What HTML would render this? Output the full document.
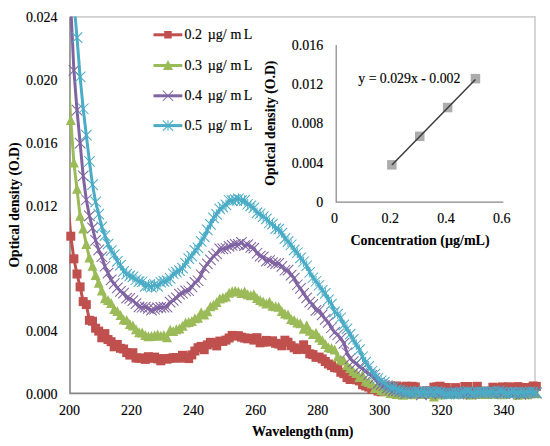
<!DOCTYPE html><html><head><meta charset="utf-8"><style>html,body{margin:0;padding:0;background:#fff;width:550px;height:446px;overflow:hidden}svg{display:block}text{font-family:"Liberation Serif",serif;stroke:#000;stroke-width:0.15px}text[font-weight=bold]{stroke-width:0.1px}</style></head><body>
<svg width="550" height="446" viewBox="0 0 550 446">
<defs><clipPath id="pc"><rect x="70" y="16.6" width="490" height="430"/></clipPath></defs>
<path d="M70,16.8 H535.0 V393.5" fill="none" stroke="#d0d0d0" stroke-width="1.7"/>
<path d="M70,16.8 V393.4 H535.0" fill="none" stroke="#868686" stroke-width="1.6"/>
<text x="57.5" y="399.1" font-size="14" text-anchor="end" fill="#000">0.000</text>
<text x="57.5" y="336.3" font-size="14" text-anchor="end" fill="#000">0.004</text>
<text x="57.5" y="273.5" font-size="14" text-anchor="end" fill="#000">0.008</text>
<text x="57.5" y="210.7" font-size="14" text-anchor="end" fill="#000">0.012</text>
<text x="57.5" y="147.8" font-size="14" text-anchor="end" fill="#000">0.016</text>
<text x="57.5" y="85.0" font-size="14" text-anchor="end" fill="#000">0.020</text>
<text x="57.5" y="22.2" font-size="14" text-anchor="end" fill="#000">0.024</text>
<text x="69.5" y="414.5" font-size="14" text-anchor="middle" fill="#000">200</text>
<text x="131.6" y="414.5" font-size="14" text-anchor="middle" fill="#000">220</text>
<text x="193.6" y="414.5" font-size="14" text-anchor="middle" fill="#000">240</text>
<text x="255.7" y="414.5" font-size="14" text-anchor="middle" fill="#000">260</text>
<text x="317.8" y="414.5" font-size="14" text-anchor="middle" fill="#000">280</text>
<text x="379.8" y="414.5" font-size="14" text-anchor="middle" fill="#000">300</text>
<text x="441.9" y="414.5" font-size="14" text-anchor="middle" fill="#000">320</text>
<text x="504.0" y="414.5" font-size="14" text-anchor="middle" fill="#000">340</text>
<text x="252" y="435.5" font-size="14" font-weight="bold" word-spacing="-1.6">Wavelength (nm)</text>
<text transform="translate(18.9,205) rotate(-90)" font-size="13.7" font-weight="bold" text-anchor="middle">Optical density (O.D)</text>
<path clip-path="url(#pc)" d="M67.7,200.0 L70.8,236.2 L73.9,258.8 L77.0,274.0 L80.1,286.9 L83.2,301.6 L86.3,304.6 L89.4,320.3 L92.5,321.2 L95.6,328.2 L98.7,331.1 L101.8,337.8 L104.9,333.6 L108.0,339.5 L111.1,341.7 L114.2,346.8 L117.3,344.4 L120.5,348.3 L123.6,349.0 L126.7,352.6 L129.8,355.1 L132.9,352.7 L136.0,358.0 L139.1,358.2 L142.2,358.0 L145.3,359.4 L148.4,356.7 L151.5,358.3 L154.6,357.1 L157.7,358.9 L160.8,360.8 L163.9,358.6 L167.0,359.2 L170.1,358.4 L173.2,357.7 L176.3,357.6 L179.4,358.2 L182.5,355.3 L185.6,357.1 L188.7,358.6 L191.8,354.9 L194.9,351.0 L198.0,347.7 L201.1,346.4 L204.2,349.7 L207.3,344.9 L210.5,342.3 L213.6,342.9 L216.7,345.9 L219.8,341.1 L222.9,341.4 L226.0,340.1 L229.1,338.0 L232.2,335.4 L235.3,336.0 L238.4,335.7 L241.5,337.2 L244.6,338.1 L247.7,338.8 L250.8,338.2 L253.9,340.1 L257.0,337.7 L260.1,342.8 L263.2,342.0 L266.3,340.4 L269.4,342.0 L272.5,340.8 L275.6,343.3 L278.7,344.0 L281.8,345.8 L284.9,340.2 L288.0,342.2 L291.1,345.7 L294.2,347.8 L297.3,349.6 L300.4,348.9 L303.6,344.8 L306.7,349.5 L309.8,353.8 L312.9,354.6 L316.0,357.3 L319.1,357.1 L322.2,358.9 L325.3,361.5 L328.4,364.0 L331.5,365.6 L334.6,367.6 L337.7,368.1 L340.8,372.3 L343.9,373.7 L347.0,377.6 L350.1,379.5 L353.2,379.2 L356.3,379.8 L359.4,380.9 L362.5,384.7 L365.6,385.9 L368.7,387.1 L371.8,389.4 L374.9,388.5 L378.0,391.1 L381.1,391.8 L384.2,386.8 L387.3,391.3 L390.4,386.0 L393.5,391.7 L396.7,386.0 L399.8,387.5 L402.9,387.5 L406.0,386.2 L409.1,391.5 L412.2,386.3 L415.3,386.9 L418.4,391.4 L421.5,392.2 L424.6,391.1 L427.7,391.0 L430.8,391.1 L433.9,387.2 L437.0,386.8 L440.1,386.2 L443.2,392.7 L446.3,387.5 L449.4,391.2 L452.5,391.3 L455.6,387.6 L458.7,391.9 L461.8,391.7 L464.9,386.5 L468.0,386.5 L471.1,391.2 L474.2,391.1 L477.3,386.3 L480.4,392.9 L483.5,391.0 L486.6,391.6 L489.8,392.0 L492.9,387.2 L496.0,391.5 L499.1,388.0 L502.2,386.9 L505.3,387.7 L508.4,386.8 L511.5,387.6 L514.6,391.9 L517.7,386.6 L520.8,387.4 L523.9,388.0 L527.0,387.5 L530.1,391.1 L533.2,386.0 L536.3,386.4" fill="none" stroke="#C0504D" stroke-width="3" stroke-linejoin="round"/>
<rect x="66.3" y="231.7" width="9" height="9" fill="#C0504D"/><rect x="69.4" y="254.3" width="9" height="9" fill="#C0504D"/><rect x="72.5" y="269.5" width="9" height="9" fill="#C0504D"/><rect x="75.6" y="282.4" width="9" height="9" fill="#C0504D"/><rect x="78.7" y="297.1" width="9" height="9" fill="#C0504D"/><rect x="81.8" y="300.1" width="9" height="9" fill="#C0504D"/><rect x="84.9" y="315.8" width="9" height="9" fill="#C0504D"/><rect x="88.0" y="316.7" width="9" height="9" fill="#C0504D"/><rect x="91.1" y="323.7" width="9" height="9" fill="#C0504D"/><rect x="94.2" y="326.6" width="9" height="9" fill="#C0504D"/><rect x="97.3" y="333.3" width="9" height="9" fill="#C0504D"/><rect x="100.4" y="329.1" width="9" height="9" fill="#C0504D"/><rect x="103.5" y="335.0" width="9" height="9" fill="#C0504D"/><rect x="106.6" y="337.2" width="9" height="9" fill="#C0504D"/><rect x="109.7" y="342.3" width="9" height="9" fill="#C0504D"/><rect x="112.8" y="339.9" width="9" height="9" fill="#C0504D"/><rect x="116.0" y="343.8" width="9" height="9" fill="#C0504D"/><rect x="119.1" y="344.5" width="9" height="9" fill="#C0504D"/><rect x="122.2" y="348.1" width="9" height="9" fill="#C0504D"/><rect x="125.3" y="350.6" width="9" height="9" fill="#C0504D"/><rect x="128.4" y="348.2" width="9" height="9" fill="#C0504D"/><rect x="131.5" y="353.5" width="9" height="9" fill="#C0504D"/><rect x="134.6" y="353.7" width="9" height="9" fill="#C0504D"/><rect x="137.7" y="353.5" width="9" height="9" fill="#C0504D"/><rect x="140.8" y="354.9" width="9" height="9" fill="#C0504D"/><rect x="143.9" y="352.2" width="9" height="9" fill="#C0504D"/><rect x="147.0" y="353.8" width="9" height="9" fill="#C0504D"/><rect x="150.1" y="352.6" width="9" height="9" fill="#C0504D"/><rect x="153.2" y="354.4" width="9" height="9" fill="#C0504D"/><rect x="156.3" y="356.3" width="9" height="9" fill="#C0504D"/><rect x="159.4" y="354.1" width="9" height="9" fill="#C0504D"/><rect x="162.5" y="354.7" width="9" height="9" fill="#C0504D"/><rect x="165.6" y="353.9" width="9" height="9" fill="#C0504D"/><rect x="168.7" y="353.2" width="9" height="9" fill="#C0504D"/><rect x="171.8" y="353.1" width="9" height="9" fill="#C0504D"/><rect x="174.9" y="353.7" width="9" height="9" fill="#C0504D"/><rect x="178.0" y="350.8" width="9" height="9" fill="#C0504D"/><rect x="181.1" y="352.6" width="9" height="9" fill="#C0504D"/><rect x="184.2" y="354.1" width="9" height="9" fill="#C0504D"/><rect x="187.3" y="350.4" width="9" height="9" fill="#C0504D"/><rect x="190.4" y="346.5" width="9" height="9" fill="#C0504D"/><rect x="193.5" y="343.2" width="9" height="9" fill="#C0504D"/><rect x="196.6" y="341.9" width="9" height="9" fill="#C0504D"/><rect x="199.7" y="345.2" width="9" height="9" fill="#C0504D"/><rect x="202.8" y="340.4" width="9" height="9" fill="#C0504D"/><rect x="206.0" y="337.8" width="9" height="9" fill="#C0504D"/><rect x="209.1" y="338.4" width="9" height="9" fill="#C0504D"/><rect x="212.2" y="341.4" width="9" height="9" fill="#C0504D"/><rect x="215.3" y="336.6" width="9" height="9" fill="#C0504D"/><rect x="218.4" y="336.9" width="9" height="9" fill="#C0504D"/><rect x="221.5" y="335.6" width="9" height="9" fill="#C0504D"/><rect x="224.6" y="333.5" width="9" height="9" fill="#C0504D"/><rect x="227.7" y="330.9" width="9" height="9" fill="#C0504D"/><rect x="230.8" y="331.5" width="9" height="9" fill="#C0504D"/><rect x="233.9" y="331.2" width="9" height="9" fill="#C0504D"/><rect x="237.0" y="332.7" width="9" height="9" fill="#C0504D"/><rect x="240.1" y="333.6" width="9" height="9" fill="#C0504D"/><rect x="243.2" y="334.3" width="9" height="9" fill="#C0504D"/><rect x="246.3" y="333.7" width="9" height="9" fill="#C0504D"/><rect x="249.4" y="335.6" width="9" height="9" fill="#C0504D"/><rect x="252.5" y="333.2" width="9" height="9" fill="#C0504D"/><rect x="255.6" y="338.3" width="9" height="9" fill="#C0504D"/><rect x="258.7" y="337.5" width="9" height="9" fill="#C0504D"/><rect x="261.8" y="335.9" width="9" height="9" fill="#C0504D"/><rect x="264.9" y="337.5" width="9" height="9" fill="#C0504D"/><rect x="268.0" y="336.3" width="9" height="9" fill="#C0504D"/><rect x="271.1" y="338.8" width="9" height="9" fill="#C0504D"/><rect x="274.2" y="339.5" width="9" height="9" fill="#C0504D"/><rect x="277.3" y="341.3" width="9" height="9" fill="#C0504D"/><rect x="280.4" y="335.7" width="9" height="9" fill="#C0504D"/><rect x="283.5" y="337.7" width="9" height="9" fill="#C0504D"/><rect x="286.6" y="341.2" width="9" height="9" fill="#C0504D"/><rect x="289.7" y="343.3" width="9" height="9" fill="#C0504D"/><rect x="292.8" y="345.1" width="9" height="9" fill="#C0504D"/><rect x="295.9" y="344.4" width="9" height="9" fill="#C0504D"/><rect x="299.1" y="340.3" width="9" height="9" fill="#C0504D"/><rect x="302.2" y="345.0" width="9" height="9" fill="#C0504D"/><rect x="305.3" y="349.3" width="9" height="9" fill="#C0504D"/><rect x="308.4" y="350.1" width="9" height="9" fill="#C0504D"/><rect x="311.5" y="352.8" width="9" height="9" fill="#C0504D"/><rect x="314.6" y="352.6" width="9" height="9" fill="#C0504D"/><rect x="317.7" y="354.4" width="9" height="9" fill="#C0504D"/><rect x="320.8" y="357.0" width="9" height="9" fill="#C0504D"/><rect x="323.9" y="359.5" width="9" height="9" fill="#C0504D"/><rect x="327.0" y="361.1" width="9" height="9" fill="#C0504D"/><rect x="330.1" y="363.1" width="9" height="9" fill="#C0504D"/><rect x="333.2" y="363.6" width="9" height="9" fill="#C0504D"/><rect x="336.3" y="367.8" width="9" height="9" fill="#C0504D"/><rect x="339.4" y="369.2" width="9" height="9" fill="#C0504D"/><rect x="342.5" y="373.1" width="9" height="9" fill="#C0504D"/><rect x="345.6" y="375.0" width="9" height="9" fill="#C0504D"/><rect x="348.7" y="374.7" width="9" height="9" fill="#C0504D"/><rect x="351.8" y="375.3" width="9" height="9" fill="#C0504D"/><rect x="354.9" y="376.4" width="9" height="9" fill="#C0504D"/><rect x="358.0" y="380.2" width="9" height="9" fill="#C0504D"/><rect x="361.1" y="381.4" width="9" height="9" fill="#C0504D"/><rect x="364.2" y="382.6" width="9" height="9" fill="#C0504D"/><rect x="367.3" y="384.9" width="9" height="9" fill="#C0504D"/><rect x="370.4" y="384.0" width="9" height="9" fill="#C0504D"/><rect x="373.5" y="386.6" width="9" height="9" fill="#C0504D"/><rect x="376.6" y="387.3" width="9" height="9" fill="#C0504D"/><rect x="379.7" y="382.3" width="9" height="9" fill="#C0504D"/><rect x="382.8" y="386.8" width="9" height="9" fill="#C0504D"/><rect x="385.9" y="381.5" width="9" height="9" fill="#C0504D"/><rect x="389.0" y="387.2" width="9" height="9" fill="#C0504D"/><rect x="392.2" y="381.5" width="9" height="9" fill="#C0504D"/><rect x="395.3" y="383.0" width="9" height="9" fill="#C0504D"/><rect x="398.4" y="383.0" width="9" height="9" fill="#C0504D"/><rect x="401.5" y="381.7" width="9" height="9" fill="#C0504D"/><rect x="404.6" y="387.0" width="9" height="9" fill="#C0504D"/><rect x="407.7" y="381.8" width="9" height="9" fill="#C0504D"/><rect x="410.8" y="382.4" width="9" height="9" fill="#C0504D"/><rect x="413.9" y="386.9" width="9" height="9" fill="#C0504D"/><rect x="417.0" y="387.7" width="9" height="9" fill="#C0504D"/><rect x="420.1" y="386.6" width="9" height="9" fill="#C0504D"/><rect x="423.2" y="386.5" width="9" height="9" fill="#C0504D"/><rect x="426.3" y="386.6" width="9" height="9" fill="#C0504D"/><rect x="429.4" y="382.7" width="9" height="9" fill="#C0504D"/><rect x="432.5" y="382.3" width="9" height="9" fill="#C0504D"/><rect x="435.6" y="381.7" width="9" height="9" fill="#C0504D"/><rect x="438.7" y="388.2" width="9" height="9" fill="#C0504D"/><rect x="441.8" y="383.0" width="9" height="9" fill="#C0504D"/><rect x="444.9" y="386.7" width="9" height="9" fill="#C0504D"/><rect x="448.0" y="386.8" width="9" height="9" fill="#C0504D"/><rect x="451.1" y="383.1" width="9" height="9" fill="#C0504D"/><rect x="454.2" y="387.4" width="9" height="9" fill="#C0504D"/><rect x="457.3" y="387.2" width="9" height="9" fill="#C0504D"/><rect x="460.4" y="382.0" width="9" height="9" fill="#C0504D"/><rect x="463.5" y="382.0" width="9" height="9" fill="#C0504D"/><rect x="466.6" y="386.7" width="9" height="9" fill="#C0504D"/><rect x="469.7" y="386.6" width="9" height="9" fill="#C0504D"/><rect x="472.8" y="381.8" width="9" height="9" fill="#C0504D"/><rect x="475.9" y="388.4" width="9" height="9" fill="#C0504D"/><rect x="479.0" y="386.5" width="9" height="9" fill="#C0504D"/><rect x="482.1" y="387.1" width="9" height="9" fill="#C0504D"/><rect x="485.2" y="387.5" width="9" height="9" fill="#C0504D"/><rect x="488.4" y="382.7" width="9" height="9" fill="#C0504D"/><rect x="491.5" y="387.0" width="9" height="9" fill="#C0504D"/><rect x="494.6" y="383.5" width="9" height="9" fill="#C0504D"/><rect x="497.7" y="382.4" width="9" height="9" fill="#C0504D"/><rect x="500.8" y="383.2" width="9" height="9" fill="#C0504D"/><rect x="503.9" y="382.3" width="9" height="9" fill="#C0504D"/><rect x="507.0" y="383.1" width="9" height="9" fill="#C0504D"/><rect x="510.1" y="387.4" width="9" height="9" fill="#C0504D"/><rect x="513.2" y="382.1" width="9" height="9" fill="#C0504D"/><rect x="516.3" y="382.9" width="9" height="9" fill="#C0504D"/><rect x="519.4" y="383.5" width="9" height="9" fill="#C0504D"/><rect x="522.5" y="383.0" width="9" height="9" fill="#C0504D"/><rect x="525.6" y="386.6" width="9" height="9" fill="#C0504D"/><rect x="528.7" y="381.5" width="9" height="9" fill="#C0504D"/><rect x="531.8" y="381.9" width="9" height="9" fill="#C0504D"/>
<path clip-path="url(#pc)" d="M67.7,70.0 L70.8,120.5 L73.9,163.0 L77.0,189.3 L80.1,216.2 L83.2,229.0 L86.3,244.6 L89.4,258.0 L92.5,266.2 L95.6,275.5 L98.7,283.2 L101.8,291.1 L104.9,298.8 L108.0,300.6 L111.1,303.5 L114.2,309.5 L117.3,311.6 L120.5,315.5 L123.6,320.0 L126.7,320.5 L129.8,324.4 L132.9,326.1 L136.0,329.8 L139.1,332.7 L142.2,333.1 L145.3,335.6 L148.4,336.7 L151.5,336.6 L154.6,335.7 L157.7,335.1 L160.8,336.2 L163.9,335.4 L167.0,337.8 L170.1,330.2 L173.2,331.6 L176.3,329.8 L179.4,329.1 L182.5,326.3 L185.6,322.9 L188.7,322.4 L191.8,321.5 L194.9,318.7 L198.0,318.3 L201.1,312.8 L204.2,314.9 L207.3,311.8 L210.5,306.7 L213.6,305.3 L216.7,302.4 L219.8,299.0 L222.9,297.9 L226.0,296.9 L229.1,293.2 L232.2,291.8 L235.3,291.3 L238.4,291.9 L241.5,293.5 L244.6,292.0 L247.7,294.7 L250.8,295.8 L253.9,294.8 L257.0,298.4 L260.1,300.4 L263.2,302.1 L266.3,303.9 L269.4,302.2 L272.5,306.2 L275.6,306.7 L278.7,307.3 L281.8,311.6 L284.9,314.1 L288.0,314.9 L291.1,319.6 L294.2,320.4 L297.3,323.1 L300.4,323.7 L303.6,329.2 L306.7,325.8 L309.8,331.2 L312.9,334.5 L316.0,333.2 L319.1,338.0 L322.2,340.6 L325.3,344.4 L328.4,347.7 L331.5,348.4 L334.6,350.1 L337.7,356.9 L340.8,359.9 L343.9,361.1 L347.0,365.5 L350.1,368.6 L353.2,371.5 L356.3,373.5 L359.4,377.4 L362.5,375.6 L365.6,381.3 L368.7,382.6 L371.8,384.1 L374.9,388.4 L378.0,386.0 L381.1,390.4 L384.2,391.2 L387.3,390.7 L390.4,393.4 L393.5,393.8 L396.7,394.6 L399.8,393.8 L402.9,395.2 L406.0,393.7 L409.1,393.1 L412.2,394.7 L415.3,393.7 L418.4,393.1 L421.5,394.1 L424.6,394.5 L427.7,394.2 L430.8,394.3 L433.9,396.9 L437.0,394.6 L440.1,395.1 L443.2,392.6 L446.3,394.3 L449.4,394.5 L452.5,393.7 L455.6,393.4 L458.7,394.3 L461.8,393.8 L464.9,393.6 L468.0,394.8 L471.1,394.9 L474.2,394.2 L477.3,393.7 L480.4,394.4 L483.5,394.6 L486.6,394.4 L489.8,393.0 L492.9,393.8 L496.0,394.3 L499.1,394.4 L502.2,394.7 L505.3,394.5 L508.4,393.2 L511.5,393.5 L514.6,393.1 L517.7,395.3 L520.8,394.1 L523.9,394.4 L527.0,394.7 L530.1,393.8 L533.2,393.2 L536.3,393.7" fill="none" stroke="#9BBB59" stroke-width="3" stroke-linejoin="round"/>
<path d="M70.8,115.0 L75.8,125.0 L65.8,125.0Z" fill="#9BBB59"/><path d="M73.9,157.5 L78.9,167.5 L68.9,167.5Z" fill="#9BBB59"/><path d="M77.0,183.8 L82.0,193.8 L72.0,193.8Z" fill="#9BBB59"/><path d="M80.1,210.7 L85.1,220.7 L75.1,220.7Z" fill="#9BBB59"/><path d="M83.2,223.5 L88.2,233.5 L78.2,233.5Z" fill="#9BBB59"/><path d="M86.3,239.1 L91.3,249.1 L81.3,249.1Z" fill="#9BBB59"/><path d="M89.4,252.5 L94.4,262.5 L84.4,262.5Z" fill="#9BBB59"/><path d="M92.5,260.7 L97.5,270.7 L87.5,270.7Z" fill="#9BBB59"/><path d="M95.6,270.0 L100.6,280.0 L90.6,280.0Z" fill="#9BBB59"/><path d="M98.7,277.7 L103.7,287.7 L93.7,287.7Z" fill="#9BBB59"/><path d="M101.8,285.6 L106.8,295.6 L96.8,295.6Z" fill="#9BBB59"/><path d="M104.9,293.3 L109.9,303.3 L99.9,303.3Z" fill="#9BBB59"/><path d="M108.0,295.1 L113.0,305.1 L103.0,305.1Z" fill="#9BBB59"/><path d="M111.1,298.0 L116.1,308.0 L106.1,308.0Z" fill="#9BBB59"/><path d="M114.2,304.0 L119.2,314.0 L109.2,314.0Z" fill="#9BBB59"/><path d="M117.3,306.1 L122.3,316.1 L112.3,316.1Z" fill="#9BBB59"/><path d="M120.5,310.0 L125.5,320.0 L115.5,320.0Z" fill="#9BBB59"/><path d="M123.6,314.5 L128.6,324.5 L118.6,324.5Z" fill="#9BBB59"/><path d="M126.7,315.0 L131.7,325.0 L121.7,325.0Z" fill="#9BBB59"/><path d="M129.8,318.9 L134.8,328.9 L124.8,328.9Z" fill="#9BBB59"/><path d="M132.9,320.6 L137.9,330.6 L127.9,330.6Z" fill="#9BBB59"/><path d="M136.0,324.3 L141.0,334.3 L131.0,334.3Z" fill="#9BBB59"/><path d="M139.1,327.2 L144.1,337.2 L134.1,337.2Z" fill="#9BBB59"/><path d="M142.2,327.6 L147.2,337.6 L137.2,337.6Z" fill="#9BBB59"/><path d="M145.3,330.1 L150.3,340.1 L140.3,340.1Z" fill="#9BBB59"/><path d="M148.4,331.2 L153.4,341.2 L143.4,341.2Z" fill="#9BBB59"/><path d="M151.5,331.1 L156.5,341.1 L146.5,341.1Z" fill="#9BBB59"/><path d="M154.6,330.2 L159.6,340.2 L149.6,340.2Z" fill="#9BBB59"/><path d="M157.7,329.6 L162.7,339.6 L152.7,339.6Z" fill="#9BBB59"/><path d="M160.8,330.7 L165.8,340.7 L155.8,340.7Z" fill="#9BBB59"/><path d="M163.9,329.9 L168.9,339.9 L158.9,339.9Z" fill="#9BBB59"/><path d="M167.0,332.3 L172.0,342.3 L162.0,342.3Z" fill="#9BBB59"/><path d="M170.1,324.7 L175.1,334.7 L165.1,334.7Z" fill="#9BBB59"/><path d="M173.2,326.1 L178.2,336.1 L168.2,336.1Z" fill="#9BBB59"/><path d="M176.3,324.3 L181.3,334.3 L171.3,334.3Z" fill="#9BBB59"/><path d="M179.4,323.6 L184.4,333.6 L174.4,333.6Z" fill="#9BBB59"/><path d="M182.5,320.8 L187.5,330.8 L177.5,330.8Z" fill="#9BBB59"/><path d="M185.6,317.4 L190.6,327.4 L180.6,327.4Z" fill="#9BBB59"/><path d="M188.7,316.9 L193.7,326.9 L183.7,326.9Z" fill="#9BBB59"/><path d="M191.8,316.0 L196.8,326.0 L186.8,326.0Z" fill="#9BBB59"/><path d="M194.9,313.2 L199.9,323.2 L189.9,323.2Z" fill="#9BBB59"/><path d="M198.0,312.8 L203.0,322.8 L193.0,322.8Z" fill="#9BBB59"/><path d="M201.1,307.3 L206.1,317.3 L196.1,317.3Z" fill="#9BBB59"/><path d="M204.2,309.4 L209.2,319.4 L199.2,319.4Z" fill="#9BBB59"/><path d="M207.3,306.3 L212.3,316.3 L202.3,316.3Z" fill="#9BBB59"/><path d="M210.5,301.2 L215.5,311.2 L205.5,311.2Z" fill="#9BBB59"/><path d="M213.6,299.8 L218.6,309.8 L208.6,309.8Z" fill="#9BBB59"/><path d="M216.7,296.9 L221.7,306.9 L211.7,306.9Z" fill="#9BBB59"/><path d="M219.8,293.5 L224.8,303.5 L214.8,303.5Z" fill="#9BBB59"/><path d="M222.9,292.4 L227.9,302.4 L217.9,302.4Z" fill="#9BBB59"/><path d="M226.0,291.4 L231.0,301.4 L221.0,301.4Z" fill="#9BBB59"/><path d="M229.1,287.7 L234.1,297.7 L224.1,297.7Z" fill="#9BBB59"/><path d="M232.2,286.3 L237.2,296.3 L227.2,296.3Z" fill="#9BBB59"/><path d="M235.3,285.8 L240.3,295.8 L230.3,295.8Z" fill="#9BBB59"/><path d="M238.4,286.4 L243.4,296.4 L233.4,296.4Z" fill="#9BBB59"/><path d="M241.5,288.0 L246.5,298.0 L236.5,298.0Z" fill="#9BBB59"/><path d="M244.6,286.5 L249.6,296.5 L239.6,296.5Z" fill="#9BBB59"/><path d="M247.7,289.2 L252.7,299.2 L242.7,299.2Z" fill="#9BBB59"/><path d="M250.8,290.3 L255.8,300.3 L245.8,300.3Z" fill="#9BBB59"/><path d="M253.9,289.3 L258.9,299.3 L248.9,299.3Z" fill="#9BBB59"/><path d="M257.0,292.9 L262.0,302.9 L252.0,302.9Z" fill="#9BBB59"/><path d="M260.1,294.9 L265.1,304.9 L255.1,304.9Z" fill="#9BBB59"/><path d="M263.2,296.6 L268.2,306.6 L258.2,306.6Z" fill="#9BBB59"/><path d="M266.3,298.4 L271.3,308.4 L261.3,308.4Z" fill="#9BBB59"/><path d="M269.4,296.7 L274.4,306.7 L264.4,306.7Z" fill="#9BBB59"/><path d="M272.5,300.7 L277.5,310.7 L267.5,310.7Z" fill="#9BBB59"/><path d="M275.6,301.2 L280.6,311.2 L270.6,311.2Z" fill="#9BBB59"/><path d="M278.7,301.8 L283.7,311.8 L273.7,311.8Z" fill="#9BBB59"/><path d="M281.8,306.1 L286.8,316.1 L276.8,316.1Z" fill="#9BBB59"/><path d="M284.9,308.6 L289.9,318.6 L279.9,318.6Z" fill="#9BBB59"/><path d="M288.0,309.4 L293.0,319.4 L283.0,319.4Z" fill="#9BBB59"/><path d="M291.1,314.1 L296.1,324.1 L286.1,324.1Z" fill="#9BBB59"/><path d="M294.2,314.9 L299.2,324.9 L289.2,324.9Z" fill="#9BBB59"/><path d="M297.3,317.6 L302.3,327.6 L292.3,327.6Z" fill="#9BBB59"/><path d="M300.4,318.2 L305.4,328.2 L295.4,328.2Z" fill="#9BBB59"/><path d="M303.6,323.7 L308.6,333.7 L298.6,333.7Z" fill="#9BBB59"/><path d="M306.7,320.3 L311.7,330.3 L301.7,330.3Z" fill="#9BBB59"/><path d="M309.8,325.7 L314.8,335.7 L304.8,335.7Z" fill="#9BBB59"/><path d="M312.9,329.0 L317.9,339.0 L307.9,339.0Z" fill="#9BBB59"/><path d="M316.0,327.7 L321.0,337.7 L311.0,337.7Z" fill="#9BBB59"/><path d="M319.1,332.5 L324.1,342.5 L314.1,342.5Z" fill="#9BBB59"/><path d="M322.2,335.1 L327.2,345.1 L317.2,345.1Z" fill="#9BBB59"/><path d="M325.3,338.9 L330.3,348.9 L320.3,348.9Z" fill="#9BBB59"/><path d="M328.4,342.2 L333.4,352.2 L323.4,352.2Z" fill="#9BBB59"/><path d="M331.5,342.9 L336.5,352.9 L326.5,352.9Z" fill="#9BBB59"/><path d="M334.6,344.6 L339.6,354.6 L329.6,354.6Z" fill="#9BBB59"/><path d="M337.7,351.4 L342.7,361.4 L332.7,361.4Z" fill="#9BBB59"/><path d="M340.8,354.4 L345.8,364.4 L335.8,364.4Z" fill="#9BBB59"/><path d="M343.9,355.6 L348.9,365.6 L338.9,365.6Z" fill="#9BBB59"/><path d="M347.0,360.0 L352.0,370.0 L342.0,370.0Z" fill="#9BBB59"/><path d="M350.1,363.1 L355.1,373.1 L345.1,373.1Z" fill="#9BBB59"/><path d="M353.2,366.0 L358.2,376.0 L348.2,376.0Z" fill="#9BBB59"/><path d="M356.3,368.0 L361.3,378.0 L351.3,378.0Z" fill="#9BBB59"/><path d="M359.4,371.9 L364.4,381.9 L354.4,381.9Z" fill="#9BBB59"/><path d="M362.5,370.1 L367.5,380.1 L357.5,380.1Z" fill="#9BBB59"/><path d="M365.6,375.8 L370.6,385.8 L360.6,385.8Z" fill="#9BBB59"/><path d="M368.7,377.1 L373.7,387.1 L363.7,387.1Z" fill="#9BBB59"/><path d="M371.8,378.6 L376.8,388.6 L366.8,388.6Z" fill="#9BBB59"/><path d="M374.9,382.9 L379.9,392.9 L369.9,392.9Z" fill="#9BBB59"/><path d="M378.0,380.5 L383.0,390.5 L373.0,390.5Z" fill="#9BBB59"/><path d="M381.1,384.9 L386.1,394.9 L376.1,394.9Z" fill="#9BBB59"/><path d="M384.2,385.7 L389.2,395.7 L379.2,395.7Z" fill="#9BBB59"/><path d="M387.3,385.2 L392.3,395.2 L382.3,395.2Z" fill="#9BBB59"/><path d="M390.4,387.9 L395.4,397.9 L385.4,397.9Z" fill="#9BBB59"/><path d="M393.5,388.3 L398.5,398.3 L388.5,398.3Z" fill="#9BBB59"/><path d="M396.7,389.1 L401.7,399.1 L391.7,399.1Z" fill="#9BBB59"/><path d="M399.8,388.3 L404.8,398.3 L394.8,398.3Z" fill="#9BBB59"/><path d="M402.9,389.7 L407.9,399.7 L397.9,399.7Z" fill="#9BBB59"/><path d="M406.0,388.2 L411.0,398.2 L401.0,398.2Z" fill="#9BBB59"/><path d="M409.1,387.6 L414.1,397.6 L404.1,397.6Z" fill="#9BBB59"/><path d="M412.2,389.2 L417.2,399.2 L407.2,399.2Z" fill="#9BBB59"/><path d="M415.3,388.2 L420.3,398.2 L410.3,398.2Z" fill="#9BBB59"/><path d="M418.4,387.6 L423.4,397.6 L413.4,397.6Z" fill="#9BBB59"/><path d="M421.5,388.6 L426.5,398.6 L416.5,398.6Z" fill="#9BBB59"/><path d="M424.6,389.0 L429.6,399.0 L419.6,399.0Z" fill="#9BBB59"/><path d="M427.7,388.7 L432.7,398.7 L422.7,398.7Z" fill="#9BBB59"/><path d="M430.8,388.8 L435.8,398.8 L425.8,398.8Z" fill="#9BBB59"/><path d="M433.9,391.4 L438.9,401.4 L428.9,401.4Z" fill="#9BBB59"/><path d="M437.0,389.1 L442.0,399.1 L432.0,399.1Z" fill="#9BBB59"/><path d="M440.1,389.6 L445.1,399.6 L435.1,399.6Z" fill="#9BBB59"/><path d="M443.2,387.1 L448.2,397.1 L438.2,397.1Z" fill="#9BBB59"/><path d="M446.3,388.8 L451.3,398.8 L441.3,398.8Z" fill="#9BBB59"/><path d="M449.4,389.0 L454.4,399.0 L444.4,399.0Z" fill="#9BBB59"/><path d="M452.5,388.2 L457.5,398.2 L447.5,398.2Z" fill="#9BBB59"/><path d="M455.6,387.9 L460.6,397.9 L450.6,397.9Z" fill="#9BBB59"/><path d="M458.7,388.8 L463.7,398.8 L453.7,398.8Z" fill="#9BBB59"/><path d="M461.8,388.3 L466.8,398.3 L456.8,398.3Z" fill="#9BBB59"/><path d="M464.9,388.1 L469.9,398.1 L459.9,398.1Z" fill="#9BBB59"/><path d="M468.0,389.3 L473.0,399.3 L463.0,399.3Z" fill="#9BBB59"/><path d="M471.1,389.4 L476.1,399.4 L466.1,399.4Z" fill="#9BBB59"/><path d="M474.2,388.7 L479.2,398.7 L469.2,398.7Z" fill="#9BBB59"/><path d="M477.3,388.2 L482.3,398.2 L472.3,398.2Z" fill="#9BBB59"/><path d="M480.4,388.9 L485.4,398.9 L475.4,398.9Z" fill="#9BBB59"/><path d="M483.5,389.1 L488.5,399.1 L478.5,399.1Z" fill="#9BBB59"/><path d="M486.6,388.9 L491.6,398.9 L481.6,398.9Z" fill="#9BBB59"/><path d="M489.8,387.5 L494.8,397.5 L484.8,397.5Z" fill="#9BBB59"/><path d="M492.9,388.3 L497.9,398.3 L487.9,398.3Z" fill="#9BBB59"/><path d="M496.0,388.8 L501.0,398.8 L491.0,398.8Z" fill="#9BBB59"/><path d="M499.1,388.9 L504.1,398.9 L494.1,398.9Z" fill="#9BBB59"/><path d="M502.2,389.2 L507.2,399.2 L497.2,399.2Z" fill="#9BBB59"/><path d="M505.3,389.0 L510.3,399.0 L500.3,399.0Z" fill="#9BBB59"/><path d="M508.4,387.7 L513.4,397.7 L503.4,397.7Z" fill="#9BBB59"/><path d="M511.5,388.0 L516.5,398.0 L506.5,398.0Z" fill="#9BBB59"/><path d="M514.6,387.6 L519.6,397.6 L509.6,397.6Z" fill="#9BBB59"/><path d="M517.7,389.8 L522.7,399.8 L512.7,399.8Z" fill="#9BBB59"/><path d="M520.8,388.6 L525.8,398.6 L515.8,398.6Z" fill="#9BBB59"/><path d="M523.9,388.9 L528.9,398.9 L518.9,398.9Z" fill="#9BBB59"/><path d="M527.0,389.2 L532.0,399.2 L522.0,399.2Z" fill="#9BBB59"/><path d="M530.1,388.3 L535.1,398.3 L525.1,398.3Z" fill="#9BBB59"/><path d="M533.2,387.7 L538.2,397.7 L528.2,397.7Z" fill="#9BBB59"/><path d="M536.3,388.2 L541.3,398.2 L531.3,398.2Z" fill="#9BBB59"/>
<path clip-path="url(#pc)" d="M67.7,-100.0 L70.8,6.8 L73.9,70.5 L77.0,110.2 L80.1,143.0 L83.2,176.0 L86.3,199.7 L89.4,215.9 L92.5,227.9 L95.6,240.5 L98.7,249.9 L101.8,256.8 L104.9,266.3 L108.0,273.0 L111.1,280.0 L114.2,283.7 L117.3,287.8 L120.5,291.3 L123.6,293.1 L126.7,298.1 L129.8,298.4 L132.9,300.5 L136.0,303.5 L139.1,307.0 L142.2,307.2 L145.3,307.2 L148.4,308.3 L151.5,310.1 L154.6,309.2 L157.7,308.0 L160.8,307.5 L163.9,307.2 L167.0,307.1 L170.1,302.0 L173.2,300.5 L176.3,298.0 L179.4,294.0 L182.5,293.3 L185.6,291.0 L188.7,290.8 L191.8,286.9 L194.9,282.4 L198.0,280.7 L201.1,274.7 L204.2,267.9 L207.3,264.0 L210.5,259.9 L213.6,256.1 L216.7,253.8 L219.8,248.9 L222.9,248.8 L226.0,248.3 L229.1,246.4 L232.2,245.3 L235.3,244.4 L238.4,244.5 L241.5,242.5 L244.6,245.7 L247.7,244.6 L250.8,247.4 L253.9,248.0 L257.0,253.3 L260.1,256.1 L263.2,257.0 L266.3,261.2 L269.4,260.5 L272.5,262.6 L275.6,263.5 L278.7,263.4 L281.8,266.5 L284.9,270.2 L288.0,270.0 L291.1,275.1 L294.2,278.1 L297.3,284.7 L300.4,288.4 L303.6,293.3 L306.7,297.9 L309.8,302.1 L312.9,304.4 L316.0,310.3 L319.1,310.2 L322.2,314.9 L325.3,319.4 L328.4,322.5 L331.5,327.8 L334.6,332.4 L337.7,334.8 L340.8,338.4 L343.9,343.3 L347.0,352.8 L350.1,358.5 L353.2,361.6 L356.3,363.4 L359.4,366.9 L362.5,368.4 L365.6,371.3 L368.7,374.4 L371.8,375.2 L374.9,378.3 L378.0,383.4 L381.1,384.6 L384.2,385.3 L387.3,388.1 L390.4,389.2 L393.5,390.5 L396.7,390.5 L399.8,391.7 L402.9,392.3 L406.0,393.5 L409.1,392.4 L412.2,393.1 L415.3,392.8 L418.4,392.1 L421.5,394.9 L424.6,393.0 L427.7,392.0 L430.8,394.0 L433.9,392.3 L437.0,393.3 L440.1,393.6 L443.2,392.5 L446.3,392.7 L449.4,392.6 L452.5,392.9 L455.6,391.9 L458.7,392.1 L461.8,392.9 L464.9,393.7 L468.0,393.4 L471.1,394.2 L474.2,393.5 L477.3,392.6 L480.4,392.9 L483.5,391.6 L486.6,392.3 L489.8,392.3 L492.9,393.2 L496.0,393.5 L499.1,392.6 L502.2,392.6 L505.3,391.9 L508.4,392.9 L511.5,393.2 L514.6,393.3 L517.7,392.5 L520.8,394.4 L523.9,393.8 L527.0,392.9 L530.1,392.6 L533.2,392.8 L536.3,393.1" fill="none" stroke="#8064A2" stroke-width="3" stroke-linejoin="round"/>
<path d="M68.7,65.2 L79.2,75.7 M79.2,65.2 L68.7,75.7" stroke="#8064A2" stroke-width="1.05"/><path d="M71.8,104.9 L82.3,115.4 M82.3,104.9 L71.8,115.4" stroke="#8064A2" stroke-width="1.05"/><path d="M74.9,137.8 L85.4,148.3 M85.4,137.8 L74.9,148.3" stroke="#8064A2" stroke-width="1.05"/><path d="M78.0,170.7 L88.5,181.2 M88.5,170.7 L78.0,181.2" stroke="#8064A2" stroke-width="1.05"/><path d="M81.1,194.5 L91.6,205.0 M91.6,194.5 L81.1,205.0" stroke="#8064A2" stroke-width="1.05"/><path d="M84.2,210.6 L94.7,221.1 M94.7,210.6 L84.2,221.1" stroke="#8064A2" stroke-width="1.05"/><path d="M87.3,222.6 L97.8,233.1 M97.8,222.6 L87.3,233.1" stroke="#8064A2" stroke-width="1.05"/><path d="M90.4,235.2 L100.9,245.7 M100.9,235.2 L90.4,245.7" stroke="#8064A2" stroke-width="1.05"/><path d="M93.5,244.6 L104.0,255.1 M104.0,244.6 L93.5,255.1" stroke="#8064A2" stroke-width="1.05"/><path d="M96.6,251.5 L107.1,262.0 M107.1,251.5 L96.6,262.0" stroke="#8064A2" stroke-width="1.05"/><path d="M99.7,261.0 L110.2,271.5 M110.2,261.0 L99.7,271.5" stroke="#8064A2" stroke-width="1.05"/><path d="M102.8,267.8 L113.3,278.3 M113.3,267.8 L102.8,278.3" stroke="#8064A2" stroke-width="1.05"/><path d="M105.9,274.7 L116.4,285.2 M116.4,274.7 L105.9,285.2" stroke="#8064A2" stroke-width="1.05"/><path d="M109.0,278.4 L119.5,288.9 M119.5,278.4 L109.0,288.9" stroke="#8064A2" stroke-width="1.05"/><path d="M112.1,282.6 L122.6,293.1 M122.6,282.6 L112.1,293.1" stroke="#8064A2" stroke-width="1.05"/><path d="M115.2,286.1 L125.7,296.6 M125.7,286.1 L115.2,296.6" stroke="#8064A2" stroke-width="1.05"/><path d="M118.3,287.9 L128.8,298.4 M128.8,287.9 L118.3,298.4" stroke="#8064A2" stroke-width="1.05"/><path d="M121.4,292.9 L131.9,303.4 M131.9,292.9 L121.4,303.4" stroke="#8064A2" stroke-width="1.05"/><path d="M124.5,293.2 L135.0,303.7 M135.0,293.2 L124.5,303.7" stroke="#8064A2" stroke-width="1.05"/><path d="M127.6,295.3 L138.1,305.8 M138.1,295.3 L127.6,305.8" stroke="#8064A2" stroke-width="1.05"/><path d="M130.7,298.3 L141.2,308.8 M141.2,298.3 L130.7,308.8" stroke="#8064A2" stroke-width="1.05"/><path d="M133.8,301.7 L144.3,312.2 M144.3,301.7 L133.8,312.2" stroke="#8064A2" stroke-width="1.05"/><path d="M136.9,302.0 L147.4,312.5 M147.4,302.0 L136.9,312.5" stroke="#8064A2" stroke-width="1.05"/><path d="M140.0,301.9 L150.5,312.4 M150.5,301.9 L140.0,312.4" stroke="#8064A2" stroke-width="1.05"/><path d="M143.1,303.1 L153.6,313.6 M153.6,303.1 L143.1,313.6" stroke="#8064A2" stroke-width="1.05"/><path d="M146.2,304.8 L156.7,315.3 M156.7,304.8 L146.2,315.3" stroke="#8064A2" stroke-width="1.05"/><path d="M149.3,304.0 L159.8,314.5 M159.8,304.0 L149.3,314.5" stroke="#8064A2" stroke-width="1.05"/><path d="M152.4,302.7 L162.9,313.2 M162.9,302.7 L152.4,313.2" stroke="#8064A2" stroke-width="1.05"/><path d="M155.5,302.2 L166.0,312.7 M166.0,302.2 L155.5,312.7" stroke="#8064A2" stroke-width="1.05"/><path d="M158.7,301.9 L169.2,312.4 M169.2,301.9 L158.7,312.4" stroke="#8064A2" stroke-width="1.05"/><path d="M161.8,301.8 L172.3,312.3 M172.3,301.8 L161.8,312.3" stroke="#8064A2" stroke-width="1.05"/><path d="M164.9,296.8 L175.4,307.3 M175.4,296.8 L164.9,307.3" stroke="#8064A2" stroke-width="1.05"/><path d="M168.0,295.2 L178.5,305.7 M178.5,295.2 L168.0,305.7" stroke="#8064A2" stroke-width="1.05"/><path d="M171.1,292.7 L181.6,303.2 M181.6,292.7 L171.1,303.2" stroke="#8064A2" stroke-width="1.05"/><path d="M174.2,288.8 L184.7,299.3 M184.7,288.8 L174.2,299.3" stroke="#8064A2" stroke-width="1.05"/><path d="M177.3,288.0 L187.8,298.5 M187.8,288.0 L177.3,298.5" stroke="#8064A2" stroke-width="1.05"/><path d="M180.4,285.7 L190.9,296.2 M190.9,285.7 L180.4,296.2" stroke="#8064A2" stroke-width="1.05"/><path d="M183.5,285.5 L194.0,296.0 M194.0,285.5 L183.5,296.0" stroke="#8064A2" stroke-width="1.05"/><path d="M186.6,281.7 L197.1,292.2 M197.1,281.7 L186.6,292.2" stroke="#8064A2" stroke-width="1.05"/><path d="M189.7,277.2 L200.2,287.7 M200.2,277.2 L189.7,287.7" stroke="#8064A2" stroke-width="1.05"/><path d="M192.8,275.5 L203.3,286.0 M203.3,275.5 L192.8,286.0" stroke="#8064A2" stroke-width="1.05"/><path d="M195.9,269.5 L206.4,280.0 M206.4,269.5 L195.9,280.0" stroke="#8064A2" stroke-width="1.05"/><path d="M199.0,262.7 L209.5,273.2 M209.5,262.7 L199.0,273.2" stroke="#8064A2" stroke-width="1.05"/><path d="M202.1,258.7 L212.6,269.2 M212.6,258.7 L202.1,269.2" stroke="#8064A2" stroke-width="1.05"/><path d="M205.2,254.6 L215.7,265.1 M215.7,254.6 L205.2,265.1" stroke="#8064A2" stroke-width="1.05"/><path d="M208.3,250.9 L218.8,261.4 M218.8,250.9 L208.3,261.4" stroke="#8064A2" stroke-width="1.05"/><path d="M211.4,248.6 L221.9,259.1 M221.9,248.6 L211.4,259.1" stroke="#8064A2" stroke-width="1.05"/><path d="M214.5,243.6 L225.0,254.1 M225.0,243.6 L214.5,254.1" stroke="#8064A2" stroke-width="1.05"/><path d="M217.6,243.6 L228.1,254.1 M228.1,243.6 L217.6,254.1" stroke="#8064A2" stroke-width="1.05"/><path d="M220.7,243.0 L231.2,253.5 M231.2,243.0 L220.7,253.5" stroke="#8064A2" stroke-width="1.05"/><path d="M223.8,241.2 L234.3,251.7 M234.3,241.2 L223.8,251.7" stroke="#8064A2" stroke-width="1.05"/><path d="M226.9,240.1 L237.4,250.6 M237.4,240.1 L226.9,250.6" stroke="#8064A2" stroke-width="1.05"/><path d="M230.0,239.2 L240.5,249.7 M240.5,239.2 L230.0,249.7" stroke="#8064A2" stroke-width="1.05"/><path d="M233.1,239.2 L243.6,249.7 M243.6,239.2 L233.1,249.7" stroke="#8064A2" stroke-width="1.05"/><path d="M236.2,237.2 L246.7,247.7 M246.7,237.2 L236.2,247.7" stroke="#8064A2" stroke-width="1.05"/><path d="M239.3,240.4 L249.8,250.9 M249.8,240.4 L239.3,250.9" stroke="#8064A2" stroke-width="1.05"/><path d="M242.4,239.3 L252.9,249.8 M252.9,239.3 L242.4,249.8" stroke="#8064A2" stroke-width="1.05"/><path d="M245.5,242.2 L256.0,252.7 M256.0,242.2 L245.5,252.7" stroke="#8064A2" stroke-width="1.05"/><path d="M248.6,242.8 L259.1,253.3 M259.1,242.8 L248.6,253.3" stroke="#8064A2" stroke-width="1.05"/><path d="M251.8,248.0 L262.2,258.5 M262.2,248.0 L251.8,258.5" stroke="#8064A2" stroke-width="1.05"/><path d="M254.9,250.8 L265.4,261.3 M265.4,250.8 L254.9,261.3" stroke="#8064A2" stroke-width="1.05"/><path d="M258.0,251.7 L268.5,262.2 M268.5,251.7 L258.0,262.2" stroke="#8064A2" stroke-width="1.05"/><path d="M261.1,255.9 L271.6,266.4 M271.6,255.9 L261.1,266.4" stroke="#8064A2" stroke-width="1.05"/><path d="M264.2,255.3 L274.7,265.8 M274.7,255.3 L264.2,265.8" stroke="#8064A2" stroke-width="1.05"/><path d="M267.3,257.4 L277.8,267.9 M277.8,257.4 L267.3,267.9" stroke="#8064A2" stroke-width="1.05"/><path d="M270.4,258.3 L280.9,268.8 M280.9,258.3 L270.4,268.8" stroke="#8064A2" stroke-width="1.05"/><path d="M273.5,258.1 L284.0,268.6 M284.0,258.1 L273.5,268.6" stroke="#8064A2" stroke-width="1.05"/><path d="M276.6,261.2 L287.1,271.7 M287.1,261.2 L276.6,271.7" stroke="#8064A2" stroke-width="1.05"/><path d="M279.7,265.0 L290.2,275.5 M290.2,265.0 L279.7,275.5" stroke="#8064A2" stroke-width="1.05"/><path d="M282.8,264.8 L293.3,275.3 M293.3,264.8 L282.8,275.3" stroke="#8064A2" stroke-width="1.05"/><path d="M285.9,269.9 L296.4,280.4 M296.4,269.9 L285.9,280.4" stroke="#8064A2" stroke-width="1.05"/><path d="M289.0,272.9 L299.5,283.4 M299.5,272.9 L289.0,283.4" stroke="#8064A2" stroke-width="1.05"/><path d="M292.1,279.5 L302.6,290.0 M302.6,279.5 L292.1,290.0" stroke="#8064A2" stroke-width="1.05"/><path d="M295.2,283.1 L305.7,293.6 M305.7,283.1 L295.2,293.6" stroke="#8064A2" stroke-width="1.05"/><path d="M298.3,288.1 L308.8,298.6 M308.8,288.1 L298.3,298.6" stroke="#8064A2" stroke-width="1.05"/><path d="M301.4,292.6 L311.9,303.1 M311.9,292.6 L301.4,303.1" stroke="#8064A2" stroke-width="1.05"/><path d="M304.5,296.8 L315.0,307.3 M315.0,296.8 L304.5,307.3" stroke="#8064A2" stroke-width="1.05"/><path d="M307.6,299.2 L318.1,309.7 M318.1,299.2 L307.6,309.7" stroke="#8064A2" stroke-width="1.05"/><path d="M310.7,305.1 L321.2,315.6 M321.2,305.1 L310.7,315.6" stroke="#8064A2" stroke-width="1.05"/><path d="M313.8,305.0 L324.3,315.5 M324.3,305.0 L313.8,315.5" stroke="#8064A2" stroke-width="1.05"/><path d="M316.9,309.7 L327.4,320.2 M327.4,309.7 L316.9,320.2" stroke="#8064A2" stroke-width="1.05"/><path d="M320.0,314.1 L330.5,324.6 M330.5,314.1 L320.0,324.6" stroke="#8064A2" stroke-width="1.05"/><path d="M323.1,317.2 L333.6,327.7 M333.6,317.2 L323.1,327.7" stroke="#8064A2" stroke-width="1.05"/><path d="M326.2,322.5 L336.7,333.0 M336.7,322.5 L326.2,333.0" stroke="#8064A2" stroke-width="1.05"/><path d="M329.3,327.1 L339.8,337.6 M339.8,327.1 L329.3,337.6" stroke="#8064A2" stroke-width="1.05"/><path d="M332.4,329.5 L342.9,340.0 M342.9,329.5 L332.4,340.0" stroke="#8064A2" stroke-width="1.05"/><path d="M335.5,333.2 L346.0,343.7 M346.0,333.2 L335.5,343.7" stroke="#8064A2" stroke-width="1.05"/><path d="M338.6,338.1 L349.1,348.6 M349.1,338.1 L338.6,348.6" stroke="#8064A2" stroke-width="1.05"/><path d="M341.7,347.5 L352.2,358.0 M352.2,347.5 L341.7,358.0" stroke="#8064A2" stroke-width="1.05"/><path d="M344.9,353.3 L355.4,363.8 M355.4,353.3 L344.9,363.8" stroke="#8064A2" stroke-width="1.05"/><path d="M348.0,356.3 L358.5,366.8 M358.5,356.3 L348.0,366.8" stroke="#8064A2" stroke-width="1.05"/><path d="M351.1,358.2 L361.6,368.7 M361.6,358.2 L351.1,368.7" stroke="#8064A2" stroke-width="1.05"/><path d="M354.2,361.7 L364.7,372.2 M364.7,361.7 L354.2,372.2" stroke="#8064A2" stroke-width="1.05"/><path d="M357.3,363.1 L367.8,373.6 M367.8,363.1 L357.3,373.6" stroke="#8064A2" stroke-width="1.05"/><path d="M360.4,366.0 L370.9,376.5 M370.9,366.0 L360.4,376.5" stroke="#8064A2" stroke-width="1.05"/><path d="M363.5,369.2 L374.0,379.7 M374.0,369.2 L363.5,379.7" stroke="#8064A2" stroke-width="1.05"/><path d="M366.6,370.0 L377.1,380.5 M377.1,370.0 L366.6,380.5" stroke="#8064A2" stroke-width="1.05"/><path d="M369.7,373.0 L380.2,383.5 M380.2,373.0 L369.7,383.5" stroke="#8064A2" stroke-width="1.05"/><path d="M372.8,378.1 L383.3,388.6 M383.3,378.1 L372.8,388.6" stroke="#8064A2" stroke-width="1.05"/><path d="M375.9,379.3 L386.4,389.8 M386.4,379.3 L375.9,389.8" stroke="#8064A2" stroke-width="1.05"/><path d="M379.0,380.1 L389.5,390.6 M389.5,380.1 L379.0,390.6" stroke="#8064A2" stroke-width="1.05"/><path d="M382.1,382.8 L392.6,393.3 M392.6,382.8 L382.1,393.3" stroke="#8064A2" stroke-width="1.05"/><path d="M385.2,384.0 L395.7,394.5 M395.7,384.0 L385.2,394.5" stroke="#8064A2" stroke-width="1.05"/><path d="M388.3,385.2 L398.8,395.7 M398.8,385.2 L388.3,395.7" stroke="#8064A2" stroke-width="1.05"/><path d="M391.4,385.3 L401.9,395.8 M401.9,385.3 L391.4,395.8" stroke="#8064A2" stroke-width="1.05"/><path d="M394.5,386.5 L405.0,397.0 M405.0,386.5 L394.5,397.0" stroke="#8064A2" stroke-width="1.05"/><path d="M397.6,387.0 L408.1,397.5 M408.1,387.0 L397.6,397.5" stroke="#8064A2" stroke-width="1.05"/><path d="M400.7,388.2 L411.2,398.7 M411.2,388.2 L400.7,398.7" stroke="#8064A2" stroke-width="1.05"/><path d="M403.8,387.2 L414.3,397.7 M414.3,387.2 L403.8,397.7" stroke="#8064A2" stroke-width="1.05"/><path d="M406.9,387.8 L417.4,398.3 M417.4,387.8 L406.9,398.3" stroke="#8064A2" stroke-width="1.05"/><path d="M410.0,387.6 L420.5,398.1 M420.5,387.6 L410.0,398.1" stroke="#8064A2" stroke-width="1.05"/><path d="M413.1,386.8 L423.6,397.3 M423.6,386.8 L413.1,397.3" stroke="#8064A2" stroke-width="1.05"/><path d="M416.2,389.6 L426.7,400.1 M426.7,389.6 L416.2,400.1" stroke="#8064A2" stroke-width="1.05"/><path d="M419.3,387.7 L429.8,398.2 M429.8,387.7 L419.3,398.2" stroke="#8064A2" stroke-width="1.05"/><path d="M422.4,386.7 L432.9,397.2 M432.9,386.7 L422.4,397.2" stroke="#8064A2" stroke-width="1.05"/><path d="M425.5,388.7 L436.0,399.2 M436.0,388.7 L425.5,399.2" stroke="#8064A2" stroke-width="1.05"/><path d="M428.6,387.0 L439.1,397.5 M439.1,387.0 L428.6,397.5" stroke="#8064A2" stroke-width="1.05"/><path d="M431.7,388.0 L442.2,398.5 M442.2,388.0 L431.7,398.5" stroke="#8064A2" stroke-width="1.05"/><path d="M434.8,388.4 L445.3,398.9 M445.3,388.4 L434.8,398.9" stroke="#8064A2" stroke-width="1.05"/><path d="M437.9,387.3 L448.4,397.8 M448.4,387.3 L437.9,397.8" stroke="#8064A2" stroke-width="1.05"/><path d="M441.1,387.4 L451.6,397.9 M451.6,387.4 L441.1,397.9" stroke="#8064A2" stroke-width="1.05"/><path d="M444.2,387.4 L454.7,397.9 M454.7,387.4 L444.2,397.9" stroke="#8064A2" stroke-width="1.05"/><path d="M447.3,387.7 L457.8,398.2 M457.8,387.7 L447.3,398.2" stroke="#8064A2" stroke-width="1.05"/><path d="M450.4,386.6 L460.9,397.1 M460.9,386.6 L450.4,397.1" stroke="#8064A2" stroke-width="1.05"/><path d="M453.5,386.9 L464.0,397.4 M464.0,386.9 L453.5,397.4" stroke="#8064A2" stroke-width="1.05"/><path d="M456.6,387.7 L467.1,398.2 M467.1,387.7 L456.6,398.2" stroke="#8064A2" stroke-width="1.05"/><path d="M459.7,388.5 L470.2,399.0 M470.2,388.5 L459.7,399.0" stroke="#8064A2" stroke-width="1.05"/><path d="M462.8,388.2 L473.3,398.7 M473.3,388.2 L462.8,398.7" stroke="#8064A2" stroke-width="1.05"/><path d="M465.9,389.0 L476.4,399.5 M476.4,389.0 L465.9,399.5" stroke="#8064A2" stroke-width="1.05"/><path d="M469.0,388.2 L479.5,398.7 M479.5,388.2 L469.0,398.7" stroke="#8064A2" stroke-width="1.05"/><path d="M472.1,387.4 L482.6,397.9 M482.6,387.4 L472.1,397.9" stroke="#8064A2" stroke-width="1.05"/><path d="M475.2,387.7 L485.7,398.2 M485.7,387.7 L475.2,398.2" stroke="#8064A2" stroke-width="1.05"/><path d="M478.3,386.3 L488.8,396.8 M488.8,386.3 L478.3,396.8" stroke="#8064A2" stroke-width="1.05"/><path d="M481.4,387.1 L491.9,397.6 M491.9,387.1 L481.4,397.6" stroke="#8064A2" stroke-width="1.05"/><path d="M484.5,387.0 L495.0,397.5 M495.0,387.0 L484.5,397.5" stroke="#8064A2" stroke-width="1.05"/><path d="M487.6,387.9 L498.1,398.4 M498.1,387.9 L487.6,398.4" stroke="#8064A2" stroke-width="1.05"/><path d="M490.7,388.2 L501.2,398.7 M501.2,388.2 L490.7,398.7" stroke="#8064A2" stroke-width="1.05"/><path d="M493.8,387.4 L504.3,397.9 M504.3,387.4 L493.8,397.9" stroke="#8064A2" stroke-width="1.05"/><path d="M496.9,387.3 L507.4,397.8 M507.4,387.3 L496.9,397.8" stroke="#8064A2" stroke-width="1.05"/><path d="M500.0,386.7 L510.5,397.2 M510.5,386.7 L500.0,397.2" stroke="#8064A2" stroke-width="1.05"/><path d="M503.1,387.7 L513.6,398.2 M513.6,387.7 L503.1,398.2" stroke="#8064A2" stroke-width="1.05"/><path d="M506.2,387.9 L516.7,398.4 M516.7,387.9 L506.2,398.4" stroke="#8064A2" stroke-width="1.05"/><path d="M509.3,388.1 L519.8,398.6 M519.8,388.1 L509.3,398.6" stroke="#8064A2" stroke-width="1.05"/><path d="M512.4,387.2 L522.9,397.7 M522.9,387.2 L512.4,397.7" stroke="#8064A2" stroke-width="1.05"/><path d="M515.5,389.1 L526.0,399.6 M526.0,389.1 L515.5,399.6" stroke="#8064A2" stroke-width="1.05"/><path d="M518.6,388.6 L529.1,399.1 M529.1,388.6 L518.6,399.1" stroke="#8064A2" stroke-width="1.05"/><path d="M521.7,387.7 L532.2,398.2 M532.2,387.7 L521.7,398.2" stroke="#8064A2" stroke-width="1.05"/><path d="M524.8,387.4 L535.3,397.9 M535.3,387.4 L524.8,397.9" stroke="#8064A2" stroke-width="1.05"/><path d="M527.9,387.5 L538.4,398.0 M538.4,387.5 L527.9,398.0" stroke="#8064A2" stroke-width="1.05"/><path d="M531.0,387.9 L541.5,398.4 M541.5,387.9 L531.0,398.4" stroke="#8064A2" stroke-width="1.05"/>
<path clip-path="url(#pc)" d="M67.7,-100.0 L70.8,-39.9 L73.9,1.5 L77.0,37.6 L80.1,76.8 L83.2,108.7 L86.3,135.1 L89.4,161.4 L92.5,184.6 L95.6,202.0 L98.7,214.1 L101.8,227.0 L104.9,235.6 L108.0,244.2 L111.1,250.6 L114.2,254.7 L117.3,261.4 L120.5,265.2 L123.6,271.4 L126.7,274.0 L129.8,275.9 L132.9,276.8 L136.0,279.8 L139.1,281.6 L142.2,281.7 L145.3,286.3 L148.4,285.4 L151.5,287.1 L154.6,284.3 L157.7,286.4 L160.8,282.2 L163.9,281.4 L167.0,280.8 L170.1,278.5 L173.2,273.8 L176.3,272.1 L179.4,270.6 L182.5,268.2 L185.6,263.3 L188.7,258.6 L191.8,256.1 L194.9,250.4 L198.0,247.9 L201.1,241.4 L204.2,236.9 L207.3,230.0 L210.5,224.3 L213.6,217.8 L216.7,214.5 L219.8,208.9 L222.9,207.2 L226.0,204.9 L229.1,200.2 L232.2,200.6 L235.3,199.7 L238.4,198.8 L241.5,200.6 L244.6,200.4 L247.7,204.2 L250.8,206.0 L253.9,208.0 L257.0,212.9 L260.1,213.8 L263.2,216.6 L266.3,218.9 L269.4,222.8 L272.5,224.0 L275.6,228.6 L278.7,229.2 L281.8,233.0 L284.9,238.5 L288.0,241.6 L291.1,244.7 L294.2,249.9 L297.3,252.7 L300.4,257.9 L303.6,261.8 L306.7,265.8 L309.8,272.2 L312.9,277.7 L316.0,281.2 L319.1,285.2 L322.2,290.5 L325.3,293.3 L328.4,299.8 L331.5,304.0 L334.6,311.9 L337.7,314.0 L340.8,317.8 L343.9,325.0 L347.0,328.8 L350.1,334.1 L353.2,339.5 L356.3,344.7 L359.4,349.6 L362.5,356.8 L365.6,362.1 L368.7,366.4 L371.8,371.3 L374.9,374.0 L378.0,378.2 L381.1,380.7 L384.2,382.5 L387.3,385.6 L390.4,387.6 L393.5,387.3 L396.7,389.8 L399.8,390.1 L402.9,391.3 L406.0,392.3 L409.1,392.2 L412.2,393.2 L415.3,391.3 L418.4,391.9 L421.5,392.4 L424.6,391.7 L427.7,392.8 L430.8,391.3 L433.9,392.5 L437.0,391.3 L440.1,392.4 L443.2,392.9 L446.3,394.3 L449.4,393.4 L452.5,393.8 L455.6,392.6 L458.7,394.2 L461.8,392.3 L464.9,392.3 L468.0,391.5 L471.1,392.7 L474.2,393.3 L477.3,392.0 L480.4,392.2 L483.5,392.1 L486.6,392.2 L489.8,392.0 L492.9,391.4 L496.0,393.6 L499.1,390.9 L502.2,391.8 L505.3,392.8 L508.4,393.3 L511.5,392.3 L514.6,392.3 L517.7,392.5 L520.8,392.3 L523.9,393.2 L527.0,392.1 L530.1,391.7 L533.2,392.1 L536.3,392.6" fill="none" stroke="#4BACC6" stroke-width="3" stroke-linejoin="round"/>
<path d="M71.8,32.3 L82.3,42.8 M82.3,32.3 L71.8,42.8 M77.0,32.3 V42.8" stroke="#4BACC6" stroke-width="1.05"/><path d="M74.9,71.6 L85.4,82.1 M85.4,71.6 L74.9,82.1 M80.1,71.6 V82.1" stroke="#4BACC6" stroke-width="1.05"/><path d="M78.0,103.5 L88.5,114.0 M88.5,103.5 L78.0,114.0 M83.2,103.5 V114.0" stroke="#4BACC6" stroke-width="1.05"/><path d="M81.1,129.9 L91.6,140.4 M91.6,129.9 L81.1,140.4 M86.3,129.9 V140.4" stroke="#4BACC6" stroke-width="1.05"/><path d="M84.2,156.1 L94.7,166.6 M94.7,156.1 L84.2,166.6 M89.4,156.1 V166.6" stroke="#4BACC6" stroke-width="1.05"/><path d="M87.3,179.4 L97.8,189.9 M97.8,179.4 L87.3,189.9 M92.5,179.4 V189.9" stroke="#4BACC6" stroke-width="1.05"/><path d="M90.4,196.7 L100.9,207.2 M100.9,196.7 L90.4,207.2 M95.6,196.7 V207.2" stroke="#4BACC6" stroke-width="1.05"/><path d="M93.5,208.9 L104.0,219.4 M104.0,208.9 L93.5,219.4 M98.7,208.9 V219.4" stroke="#4BACC6" stroke-width="1.05"/><path d="M96.6,221.7 L107.1,232.2 M107.1,221.7 L96.6,232.2 M101.8,221.7 V232.2" stroke="#4BACC6" stroke-width="1.05"/><path d="M99.7,230.3 L110.2,240.8 M110.2,230.3 L99.7,240.8 M104.9,230.3 V240.8" stroke="#4BACC6" stroke-width="1.05"/><path d="M102.8,238.9 L113.3,249.4 M113.3,238.9 L102.8,249.4 M108.0,238.9 V249.4" stroke="#4BACC6" stroke-width="1.05"/><path d="M105.9,245.3 L116.4,255.8 M116.4,245.3 L105.9,255.8 M111.1,245.3 V255.8" stroke="#4BACC6" stroke-width="1.05"/><path d="M109.0,249.4 L119.5,259.9 M119.5,249.4 L109.0,259.9 M114.2,249.4 V259.9" stroke="#4BACC6" stroke-width="1.05"/><path d="M112.1,256.1 L122.6,266.6 M122.6,256.1 L112.1,266.6 M117.3,256.1 V266.6" stroke="#4BACC6" stroke-width="1.05"/><path d="M115.2,259.9 L125.7,270.4 M125.7,259.9 L115.2,270.4 M120.5,259.9 V270.4" stroke="#4BACC6" stroke-width="1.05"/><path d="M118.3,266.2 L128.8,276.7 M128.8,266.2 L118.3,276.7 M123.6,266.2 V276.7" stroke="#4BACC6" stroke-width="1.05"/><path d="M121.4,268.8 L131.9,279.3 M131.9,268.8 L121.4,279.3 M126.7,268.8 V279.3" stroke="#4BACC6" stroke-width="1.05"/><path d="M124.5,270.6 L135.0,281.1 M135.0,270.6 L124.5,281.1 M129.8,270.6 V281.1" stroke="#4BACC6" stroke-width="1.05"/><path d="M127.6,271.6 L138.1,282.1 M138.1,271.6 L127.6,282.1 M132.9,271.6 V282.1" stroke="#4BACC6" stroke-width="1.05"/><path d="M130.7,274.5 L141.2,285.0 M141.2,274.5 L130.7,285.0 M136.0,274.5 V285.0" stroke="#4BACC6" stroke-width="1.05"/><path d="M133.8,276.3 L144.3,286.8 M144.3,276.3 L133.8,286.8 M139.1,276.3 V286.8" stroke="#4BACC6" stroke-width="1.05"/><path d="M136.9,276.5 L147.4,287.0 M147.4,276.5 L136.9,287.0 M142.2,276.5 V287.0" stroke="#4BACC6" stroke-width="1.05"/><path d="M140.0,281.1 L150.5,291.6 M150.5,281.1 L140.0,291.6 M145.3,281.1 V291.6" stroke="#4BACC6" stroke-width="1.05"/><path d="M143.1,280.1 L153.6,290.6 M153.6,280.1 L143.1,290.6 M148.4,280.1 V290.6" stroke="#4BACC6" stroke-width="1.05"/><path d="M146.2,281.9 L156.7,292.4 M156.7,281.9 L146.2,292.4 M151.5,281.9 V292.4" stroke="#4BACC6" stroke-width="1.05"/><path d="M149.3,279.0 L159.8,289.5 M159.8,279.0 L149.3,289.5 M154.6,279.0 V289.5" stroke="#4BACC6" stroke-width="1.05"/><path d="M152.4,281.1 L162.9,291.6 M162.9,281.1 L152.4,291.6 M157.7,281.1 V291.6" stroke="#4BACC6" stroke-width="1.05"/><path d="M155.5,277.0 L166.0,287.5 M166.0,277.0 L155.5,287.5 M160.8,277.0 V287.5" stroke="#4BACC6" stroke-width="1.05"/><path d="M158.7,276.1 L169.2,286.6 M169.2,276.1 L158.7,286.6 M163.9,276.1 V286.6" stroke="#4BACC6" stroke-width="1.05"/><path d="M161.8,275.6 L172.3,286.1 M172.3,275.6 L161.8,286.1 M167.0,275.6 V286.1" stroke="#4BACC6" stroke-width="1.05"/><path d="M164.9,273.2 L175.4,283.7 M175.4,273.2 L164.9,283.7 M170.1,273.2 V283.7" stroke="#4BACC6" stroke-width="1.05"/><path d="M168.0,268.5 L178.5,279.0 M178.5,268.5 L168.0,279.0 M173.2,268.5 V279.0" stroke="#4BACC6" stroke-width="1.05"/><path d="M171.1,266.8 L181.6,277.3 M181.6,266.8 L171.1,277.3 M176.3,266.8 V277.3" stroke="#4BACC6" stroke-width="1.05"/><path d="M174.2,265.3 L184.7,275.8 M184.7,265.3 L174.2,275.8 M179.4,265.3 V275.8" stroke="#4BACC6" stroke-width="1.05"/><path d="M177.3,262.9 L187.8,273.4 M187.8,262.9 L177.3,273.4 M182.5,262.9 V273.4" stroke="#4BACC6" stroke-width="1.05"/><path d="M180.4,258.1 L190.9,268.6 M190.9,258.1 L180.4,268.6 M185.6,258.1 V268.6" stroke="#4BACC6" stroke-width="1.05"/><path d="M183.5,253.4 L194.0,263.9 M194.0,253.4 L183.5,263.9 M188.7,253.4 V263.9" stroke="#4BACC6" stroke-width="1.05"/><path d="M186.6,250.9 L197.1,261.4 M197.1,250.9 L186.6,261.4 M191.8,250.9 V261.4" stroke="#4BACC6" stroke-width="1.05"/><path d="M189.7,245.1 L200.2,255.6 M200.2,245.1 L189.7,255.6 M194.9,245.1 V255.6" stroke="#4BACC6" stroke-width="1.05"/><path d="M192.8,242.7 L203.3,253.2 M203.3,242.7 L192.8,253.2 M198.0,242.7 V253.2" stroke="#4BACC6" stroke-width="1.05"/><path d="M195.9,236.2 L206.4,246.7 M206.4,236.2 L195.9,246.7 M201.1,236.2 V246.7" stroke="#4BACC6" stroke-width="1.05"/><path d="M199.0,231.7 L209.5,242.2 M209.5,231.7 L199.0,242.2 M204.2,231.7 V242.2" stroke="#4BACC6" stroke-width="1.05"/><path d="M202.1,224.7 L212.6,235.2 M212.6,224.7 L202.1,235.2 M207.3,224.7 V235.2" stroke="#4BACC6" stroke-width="1.05"/><path d="M205.2,219.1 L215.7,229.6 M215.7,219.1 L205.2,229.6 M210.5,219.1 V229.6" stroke="#4BACC6" stroke-width="1.05"/><path d="M208.3,212.6 L218.8,223.1 M218.8,212.6 L208.3,223.1 M213.6,212.6 V223.1" stroke="#4BACC6" stroke-width="1.05"/><path d="M211.4,209.2 L221.9,219.7 M221.9,209.2 L211.4,219.7 M216.7,209.2 V219.7" stroke="#4BACC6" stroke-width="1.05"/><path d="M214.5,203.7 L225.0,214.2 M225.0,203.7 L214.5,214.2 M219.8,203.7 V214.2" stroke="#4BACC6" stroke-width="1.05"/><path d="M217.6,201.9 L228.1,212.4 M228.1,201.9 L217.6,212.4 M222.9,201.9 V212.4" stroke="#4BACC6" stroke-width="1.05"/><path d="M220.7,199.6 L231.2,210.1 M231.2,199.6 L220.7,210.1 M226.0,199.6 V210.1" stroke="#4BACC6" stroke-width="1.05"/><path d="M223.8,195.0 L234.3,205.5 M234.3,195.0 L223.8,205.5 M229.1,195.0 V205.5" stroke="#4BACC6" stroke-width="1.05"/><path d="M226.9,195.3 L237.4,205.8 M237.4,195.3 L226.9,205.8 M232.2,195.3 V205.8" stroke="#4BACC6" stroke-width="1.05"/><path d="M230.0,194.4 L240.5,204.9 M240.5,194.4 L230.0,204.9 M235.3,194.4 V204.9" stroke="#4BACC6" stroke-width="1.05"/><path d="M233.1,193.6 L243.6,204.1 M243.6,193.6 L233.1,204.1 M238.4,193.6 V204.1" stroke="#4BACC6" stroke-width="1.05"/><path d="M236.2,195.4 L246.7,205.9 M246.7,195.4 L236.2,205.9 M241.5,195.4 V205.9" stroke="#4BACC6" stroke-width="1.05"/><path d="M239.3,195.2 L249.8,205.7 M249.8,195.2 L239.3,205.7 M244.6,195.2 V205.7" stroke="#4BACC6" stroke-width="1.05"/><path d="M242.4,199.0 L252.9,209.5 M252.9,199.0 L242.4,209.5 M247.7,199.0 V209.5" stroke="#4BACC6" stroke-width="1.05"/><path d="M245.5,200.7 L256.0,211.2 M256.0,200.7 L245.5,211.2 M250.8,200.7 V211.2" stroke="#4BACC6" stroke-width="1.05"/><path d="M248.6,202.7 L259.1,213.2 M259.1,202.7 L248.6,213.2 M253.9,202.7 V213.2" stroke="#4BACC6" stroke-width="1.05"/><path d="M251.8,207.6 L262.2,218.1 M262.2,207.6 L251.8,218.1 M257.0,207.6 V218.1" stroke="#4BACC6" stroke-width="1.05"/><path d="M254.9,208.5 L265.4,219.0 M265.4,208.5 L254.9,219.0 M260.1,208.5 V219.0" stroke="#4BACC6" stroke-width="1.05"/><path d="M258.0,211.4 L268.5,221.9 M268.5,211.4 L258.0,221.9 M263.2,211.4 V221.9" stroke="#4BACC6" stroke-width="1.05"/><path d="M261.1,213.7 L271.6,224.2 M271.6,213.7 L261.1,224.2 M266.3,213.7 V224.2" stroke="#4BACC6" stroke-width="1.05"/><path d="M264.2,217.5 L274.7,228.0 M274.7,217.5 L264.2,228.0 M269.4,217.5 V228.0" stroke="#4BACC6" stroke-width="1.05"/><path d="M267.3,218.8 L277.8,229.3 M277.8,218.8 L267.3,229.3 M272.5,218.8 V229.3" stroke="#4BACC6" stroke-width="1.05"/><path d="M270.4,223.3 L280.9,233.8 M280.9,223.3 L270.4,233.8 M275.6,223.3 V233.8" stroke="#4BACC6" stroke-width="1.05"/><path d="M273.5,223.9 L284.0,234.4 M284.0,223.9 L273.5,234.4 M278.7,223.9 V234.4" stroke="#4BACC6" stroke-width="1.05"/><path d="M276.6,227.8 L287.1,238.3 M287.1,227.8 L276.6,238.3 M281.8,227.8 V238.3" stroke="#4BACC6" stroke-width="1.05"/><path d="M279.7,233.3 L290.2,243.8 M290.2,233.3 L279.7,243.8 M284.9,233.3 V243.8" stroke="#4BACC6" stroke-width="1.05"/><path d="M282.8,236.4 L293.3,246.9 M293.3,236.4 L282.8,246.9 M288.0,236.4 V246.9" stroke="#4BACC6" stroke-width="1.05"/><path d="M285.9,239.5 L296.4,250.0 M296.4,239.5 L285.9,250.0 M291.1,239.5 V250.0" stroke="#4BACC6" stroke-width="1.05"/><path d="M289.0,244.7 L299.5,255.2 M299.5,244.7 L289.0,255.2 M294.2,244.7 V255.2" stroke="#4BACC6" stroke-width="1.05"/><path d="M292.1,247.5 L302.6,258.0 M302.6,247.5 L292.1,258.0 M297.3,247.5 V258.0" stroke="#4BACC6" stroke-width="1.05"/><path d="M295.2,252.7 L305.7,263.2 M305.7,252.7 L295.2,263.2 M300.4,252.7 V263.2" stroke="#4BACC6" stroke-width="1.05"/><path d="M298.3,256.5 L308.8,267.0 M308.8,256.5 L298.3,267.0 M303.6,256.5 V267.0" stroke="#4BACC6" stroke-width="1.05"/><path d="M301.4,260.5 L311.9,271.0 M311.9,260.5 L301.4,271.0 M306.7,260.5 V271.0" stroke="#4BACC6" stroke-width="1.05"/><path d="M304.5,267.0 L315.0,277.5 M315.0,267.0 L304.5,277.5 M309.8,267.0 V277.5" stroke="#4BACC6" stroke-width="1.05"/><path d="M307.6,272.5 L318.1,283.0 M318.1,272.5 L307.6,283.0 M312.9,272.5 V283.0" stroke="#4BACC6" stroke-width="1.05"/><path d="M310.7,276.0 L321.2,286.5 M321.2,276.0 L310.7,286.5 M316.0,276.0 V286.5" stroke="#4BACC6" stroke-width="1.05"/><path d="M313.8,280.0 L324.3,290.5 M324.3,280.0 L313.8,290.5 M319.1,280.0 V290.5" stroke="#4BACC6" stroke-width="1.05"/><path d="M316.9,285.2 L327.4,295.7 M327.4,285.2 L316.9,295.7 M322.2,285.2 V295.7" stroke="#4BACC6" stroke-width="1.05"/><path d="M320.0,288.1 L330.5,298.6 M330.5,288.1 L320.0,298.6 M325.3,288.1 V298.6" stroke="#4BACC6" stroke-width="1.05"/><path d="M323.1,294.6 L333.6,305.1 M333.6,294.6 L323.1,305.1 M328.4,294.6 V305.1" stroke="#4BACC6" stroke-width="1.05"/><path d="M326.2,298.8 L336.7,309.3 M336.7,298.8 L326.2,309.3 M331.5,298.8 V309.3" stroke="#4BACC6" stroke-width="1.05"/><path d="M329.3,306.6 L339.8,317.1 M339.8,306.6 L329.3,317.1 M334.6,306.6 V317.1" stroke="#4BACC6" stroke-width="1.05"/><path d="M332.4,308.8 L342.9,319.3 M342.9,308.8 L332.4,319.3 M337.7,308.8 V319.3" stroke="#4BACC6" stroke-width="1.05"/><path d="M335.5,312.5 L346.0,323.0 M346.0,312.5 L335.5,323.0 M340.8,312.5 V323.0" stroke="#4BACC6" stroke-width="1.05"/><path d="M338.6,319.7 L349.1,330.2 M349.1,319.7 L338.6,330.2 M343.9,319.7 V330.2" stroke="#4BACC6" stroke-width="1.05"/><path d="M341.7,323.6 L352.2,334.1 M352.2,323.6 L341.7,334.1 M347.0,323.6 V334.1" stroke="#4BACC6" stroke-width="1.05"/><path d="M344.9,328.9 L355.4,339.4 M355.4,328.9 L344.9,339.4 M350.1,328.9 V339.4" stroke="#4BACC6" stroke-width="1.05"/><path d="M348.0,334.2 L358.5,344.7 M358.5,334.2 L348.0,344.7 M353.2,334.2 V344.7" stroke="#4BACC6" stroke-width="1.05"/><path d="M351.1,339.5 L361.6,350.0 M361.6,339.5 L351.1,350.0 M356.3,339.5 V350.0" stroke="#4BACC6" stroke-width="1.05"/><path d="M354.2,344.4 L364.7,354.9 M364.7,344.4 L354.2,354.9 M359.4,344.4 V354.9" stroke="#4BACC6" stroke-width="1.05"/><path d="M357.3,351.5 L367.8,362.0 M367.8,351.5 L357.3,362.0 M362.5,351.5 V362.0" stroke="#4BACC6" stroke-width="1.05"/><path d="M360.4,356.8 L370.9,367.3 M370.9,356.8 L360.4,367.3 M365.6,356.8 V367.3" stroke="#4BACC6" stroke-width="1.05"/><path d="M363.5,361.1 L374.0,371.6 M374.0,361.1 L363.5,371.6 M368.7,361.1 V371.6" stroke="#4BACC6" stroke-width="1.05"/><path d="M366.6,366.0 L377.1,376.5 M377.1,366.0 L366.6,376.5 M371.8,366.0 V376.5" stroke="#4BACC6" stroke-width="1.05"/><path d="M369.7,368.8 L380.2,379.3 M380.2,368.8 L369.7,379.3 M374.9,368.8 V379.3" stroke="#4BACC6" stroke-width="1.05"/><path d="M372.8,373.0 L383.3,383.5 M383.3,373.0 L372.8,383.5 M378.0,373.0 V383.5" stroke="#4BACC6" stroke-width="1.05"/><path d="M375.9,375.5 L386.4,386.0 M386.4,375.5 L375.9,386.0 M381.1,375.5 V386.0" stroke="#4BACC6" stroke-width="1.05"/><path d="M379.0,377.2 L389.5,387.7 M389.5,377.2 L379.0,387.7 M384.2,377.2 V387.7" stroke="#4BACC6" stroke-width="1.05"/><path d="M382.1,380.4 L392.6,390.9 M392.6,380.4 L382.1,390.9 M387.3,380.4 V390.9" stroke="#4BACC6" stroke-width="1.05"/><path d="M385.2,382.3 L395.7,392.8 M395.7,382.3 L385.2,392.8 M390.4,382.3 V392.8" stroke="#4BACC6" stroke-width="1.05"/><path d="M388.3,382.0 L398.8,392.5 M398.8,382.0 L388.3,392.5 M393.5,382.0 V392.5" stroke="#4BACC6" stroke-width="1.05"/><path d="M391.4,384.5 L401.9,395.0 M401.9,384.5 L391.4,395.0 M396.7,384.5 V395.0" stroke="#4BACC6" stroke-width="1.05"/><path d="M394.5,384.9 L405.0,395.4 M405.0,384.9 L394.5,395.4 M399.8,384.9 V395.4" stroke="#4BACC6" stroke-width="1.05"/><path d="M397.6,386.0 L408.1,396.5 M408.1,386.0 L397.6,396.5 M402.9,386.0 V396.5" stroke="#4BACC6" stroke-width="1.05"/><path d="M400.7,387.0 L411.2,397.5 M411.2,387.0 L400.7,397.5 M406.0,387.0 V397.5" stroke="#4BACC6" stroke-width="1.05"/><path d="M403.8,386.9 L414.3,397.4 M414.3,386.9 L403.8,397.4 M409.1,386.9 V397.4" stroke="#4BACC6" stroke-width="1.05"/><path d="M406.9,388.0 L417.4,398.5 M417.4,388.0 L406.9,398.5 M412.2,388.0 V398.5" stroke="#4BACC6" stroke-width="1.05"/><path d="M410.0,386.1 L420.5,396.6 M420.5,386.1 L410.0,396.6 M415.3,386.1 V396.6" stroke="#4BACC6" stroke-width="1.05"/><path d="M413.1,386.7 L423.6,397.2 M423.6,386.7 L413.1,397.2 M418.4,386.7 V397.2" stroke="#4BACC6" stroke-width="1.05"/><path d="M416.2,387.2 L426.7,397.7 M426.7,387.2 L416.2,397.7 M421.5,387.2 V397.7" stroke="#4BACC6" stroke-width="1.05"/><path d="M419.3,386.4 L429.8,396.9 M429.8,386.4 L419.3,396.9 M424.6,386.4 V396.9" stroke="#4BACC6" stroke-width="1.05"/><path d="M422.4,387.5 L432.9,398.0 M432.9,387.5 L422.4,398.0 M427.7,387.5 V398.0" stroke="#4BACC6" stroke-width="1.05"/><path d="M425.5,386.0 L436.0,396.5 M436.0,386.0 L425.5,396.5 M430.8,386.0 V396.5" stroke="#4BACC6" stroke-width="1.05"/><path d="M428.6,387.3 L439.1,397.8 M439.1,387.3 L428.6,397.8 M433.9,387.3 V397.8" stroke="#4BACC6" stroke-width="1.05"/><path d="M431.7,386.1 L442.2,396.6 M442.2,386.1 L431.7,396.6 M437.0,386.1 V396.6" stroke="#4BACC6" stroke-width="1.05"/><path d="M434.8,387.1 L445.3,397.6 M445.3,387.1 L434.8,397.6 M440.1,387.1 V397.6" stroke="#4BACC6" stroke-width="1.05"/><path d="M437.9,387.7 L448.4,398.2 M448.4,387.7 L437.9,398.2 M443.2,387.7 V398.2" stroke="#4BACC6" stroke-width="1.05"/><path d="M441.1,389.0 L451.6,399.5 M451.6,389.0 L441.1,399.5 M446.3,389.0 V399.5" stroke="#4BACC6" stroke-width="1.05"/><path d="M444.2,388.1 L454.7,398.6 M454.7,388.1 L444.2,398.6 M449.4,388.1 V398.6" stroke="#4BACC6" stroke-width="1.05"/><path d="M447.3,388.5 L457.8,399.0 M457.8,388.5 L447.3,399.0 M452.5,388.5 V399.0" stroke="#4BACC6" stroke-width="1.05"/><path d="M450.4,387.3 L460.9,397.8 M460.9,387.3 L450.4,397.8 M455.6,387.3 V397.8" stroke="#4BACC6" stroke-width="1.05"/><path d="M453.5,388.9 L464.0,399.4 M464.0,388.9 L453.5,399.4 M458.7,388.9 V399.4" stroke="#4BACC6" stroke-width="1.05"/><path d="M456.6,387.1 L467.1,397.6 M467.1,387.1 L456.6,397.6 M461.8,387.1 V397.6" stroke="#4BACC6" stroke-width="1.05"/><path d="M459.7,387.0 L470.2,397.5 M470.2,387.0 L459.7,397.5 M464.9,387.0 V397.5" stroke="#4BACC6" stroke-width="1.05"/><path d="M462.8,386.2 L473.3,396.7 M473.3,386.2 L462.8,396.7 M468.0,386.2 V396.7" stroke="#4BACC6" stroke-width="1.05"/><path d="M465.9,387.4 L476.4,397.9 M476.4,387.4 L465.9,397.9 M471.1,387.4 V397.9" stroke="#4BACC6" stroke-width="1.05"/><path d="M469.0,388.1 L479.5,398.6 M479.5,388.1 L469.0,398.6 M474.2,388.1 V398.6" stroke="#4BACC6" stroke-width="1.05"/><path d="M472.1,386.7 L482.6,397.2 M482.6,386.7 L472.1,397.2 M477.3,386.7 V397.2" stroke="#4BACC6" stroke-width="1.05"/><path d="M475.2,387.0 L485.7,397.5 M485.7,387.0 L475.2,397.5 M480.4,387.0 V397.5" stroke="#4BACC6" stroke-width="1.05"/><path d="M478.3,386.9 L488.8,397.4 M488.8,386.9 L478.3,397.4 M483.5,386.9 V397.4" stroke="#4BACC6" stroke-width="1.05"/><path d="M481.4,387.0 L491.9,397.5 M491.9,387.0 L481.4,397.5 M486.6,387.0 V397.5" stroke="#4BACC6" stroke-width="1.05"/><path d="M484.5,386.8 L495.0,397.3 M495.0,386.8 L484.5,397.3 M489.8,386.8 V397.3" stroke="#4BACC6" stroke-width="1.05"/><path d="M487.6,386.2 L498.1,396.7 M498.1,386.2 L487.6,396.7 M492.9,386.2 V396.7" stroke="#4BACC6" stroke-width="1.05"/><path d="M490.7,388.4 L501.2,398.9 M501.2,388.4 L490.7,398.9 M496.0,388.4 V398.9" stroke="#4BACC6" stroke-width="1.05"/><path d="M493.8,385.7 L504.3,396.2 M504.3,385.7 L493.8,396.2 M499.1,385.7 V396.2" stroke="#4BACC6" stroke-width="1.05"/><path d="M496.9,386.5 L507.4,397.0 M507.4,386.5 L496.9,397.0 M502.2,386.5 V397.0" stroke="#4BACC6" stroke-width="1.05"/><path d="M500.0,387.5 L510.5,398.0 M510.5,387.5 L500.0,398.0 M505.3,387.5 V398.0" stroke="#4BACC6" stroke-width="1.05"/><path d="M503.1,388.1 L513.6,398.6 M513.6,388.1 L503.1,398.6 M508.4,388.1 V398.6" stroke="#4BACC6" stroke-width="1.05"/><path d="M506.2,387.1 L516.7,397.6 M516.7,387.1 L506.2,397.6 M511.5,387.1 V397.6" stroke="#4BACC6" stroke-width="1.05"/><path d="M509.3,387.0 L519.8,397.5 M519.8,387.0 L509.3,397.5 M514.6,387.0 V397.5" stroke="#4BACC6" stroke-width="1.05"/><path d="M512.4,387.3 L522.9,397.8 M522.9,387.3 L512.4,397.8 M517.7,387.3 V397.8" stroke="#4BACC6" stroke-width="1.05"/><path d="M515.5,387.0 L526.0,397.5 M526.0,387.0 L515.5,397.5 M520.8,387.0 V397.5" stroke="#4BACC6" stroke-width="1.05"/><path d="M518.6,388.0 L529.1,398.5 M529.1,388.0 L518.6,398.5 M523.9,388.0 V398.5" stroke="#4BACC6" stroke-width="1.05"/><path d="M521.7,386.9 L532.2,397.4 M532.2,386.9 L521.7,397.4 M527.0,386.9 V397.4" stroke="#4BACC6" stroke-width="1.05"/><path d="M524.8,386.5 L535.3,397.0 M535.3,386.5 L524.8,397.0 M530.1,386.5 V397.0" stroke="#4BACC6" stroke-width="1.05"/><path d="M527.9,386.9 L538.4,397.4 M538.4,386.9 L527.9,397.4 M533.2,386.9 V397.4" stroke="#4BACC6" stroke-width="1.05"/><path d="M531.0,387.3 L541.5,397.8 M541.5,387.3 L531.0,397.8 M536.3,387.3 V397.8" stroke="#4BACC6" stroke-width="1.05"/>
<line x1="153.5" y1="34.8" x2="182.3" y2="34.8" stroke="#C0504D" stroke-width="3"/>
<rect x="164.2" y="31.0" width="7.5" height="7.5" fill="#C0504D"/>
<text y="39.4" font-size="14"><tspan x="184.5">0.2</tspan><tspan x="207.8">µg/</tspan><tspan x="230.6">m</tspan><tspan x="243.8">L</tspan></text>
<line x1="153.5" y1="65.5" x2="182.3" y2="65.5" stroke="#9BBB59" stroke-width="3"/>
<path d="M168.0,60.0 L173.0,70.0 L163.0,70.0Z" fill="#9BBB59"/>
<text y="70.1" font-size="14"><tspan x="184.5">0.3</tspan><tspan x="207.8">µg/</tspan><tspan x="230.6">m</tspan><tspan x="243.8">L</tspan></text>
<line x1="153.5" y1="95.8" x2="182.3" y2="95.8" stroke="#8064A2" stroke-width="3"/>
<path d="M162.8,90.5 L173.2,101.0 M173.2,90.5 L162.8,101.0" stroke="#8064A2" stroke-width="1.05"/>
<text y="100.4" font-size="14"><tspan x="184.5">0.4</tspan><tspan x="207.8">µg/</tspan><tspan x="230.6">m</tspan><tspan x="243.8">L</tspan></text>
<line x1="153.5" y1="125.6" x2="182.3" y2="125.6" stroke="#4BACC6" stroke-width="3"/>
<path d="M162.8,120.3 L173.2,130.8 M173.2,120.3 L162.8,130.8 M168.0,120.3 V130.8" stroke="#4BACC6" stroke-width="1.05"/>
<text y="130.2" font-size="14"><tspan x="184.5">0.5</tspan><tspan x="207.8">µg/</tspan><tspan x="230.6">m</tspan><tspan x="243.8">L</tspan></text>
<path d="M336.2,45.0 V202.2 H503.3" fill="none" stroke="#868686" stroke-width="1.2"/>
<text x="323.3" y="206.8" font-size="14" text-anchor="end">0</text>
<text x="323.3" y="167.5" font-size="14" text-anchor="end">0.004</text>
<text x="323.3" y="128.2" font-size="14" text-anchor="end">0.008</text>
<text x="323.3" y="88.9" font-size="14" text-anchor="end">0.012</text>
<text x="323.3" y="49.6" font-size="14" text-anchor="end">0.016</text>
<text x="334.6" y="223.4" font-size="14" text-anchor="middle">0</text>
<text x="390.3" y="223.4" font-size="14" text-anchor="middle">0.2</text>
<text x="446.0" y="223.4" font-size="14" text-anchor="middle">0.4</text>
<text x="501.7" y="223.4" font-size="14" text-anchor="middle">0.6</text>
<text x="420" y="244.6" font-size="14" font-weight="bold" text-anchor="middle">Concentration (µg/mL)</text>
<text transform="translate(275.2,123.2) rotate(-90)" font-size="13.7" font-weight="bold" text-anchor="middle">Optical density (O.D)</text>
<rect x="387.1" y="160.1" width="9.5" height="9.5" fill="#acacac"/>
<rect x="415.0" y="131.6" width="9.5" height="9.5" fill="#acacac"/>
<rect x="442.9" y="102.8" width="9.5" height="9.5" fill="#acacac"/>
<rect x="470.7" y="73.9" width="9.5" height="9.5" fill="#acacac"/>
<line x1="391.9" y1="164.9" x2="475.4" y2="79.4" stroke="#3c3c3c" stroke-width="1.5"/>
<text x="358.3" y="83.4" font-size="13.8" style="stroke-width:0.15px">y = 0.029x - 0.002</text>
</svg></body></html>
